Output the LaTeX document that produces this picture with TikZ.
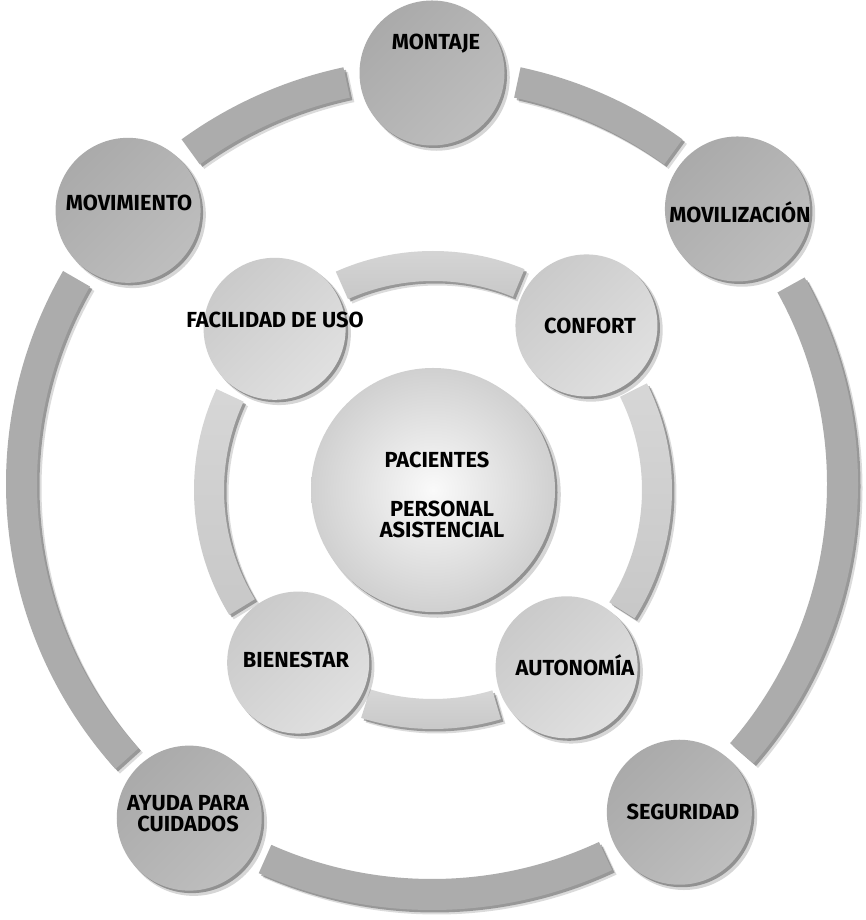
\documentclass[tikz,border=0pt]{standalone}
\usepackage{fontspec}
\setmainfont{Fira Sans}
\usetikzlibrary{calc,shadows}
\definecolor{outA}{RGB}{170,170,170}
\definecolor{outB}{RGB}{190,190,190}
\definecolor{inA}{RGB}{202,202,202}
\definecolor{inB}{RGB}{224,224,224}
\definecolor{ctrIn}{RGB}{250,250,250}
\definecolor{ctrOut}{RGB}{208,208,208}
\definecolor{arcOut}{RGB}{172,172,172}
\definecolor{arcIn}{RGB}{210,210,210}

% #1 style, #2 centre, #3 start angle, #4 end angle, #5 inner radius, #6 outer radius
\newcommand\ringseg[6]{%
  \path[#1] ($(#2)+(#3:#6pt)$) arc[start angle=#3, end angle=#4, radius=#6pt]
    -- ($(#2)+(#4:#5pt)$) arc[start angle=#4, end angle=#3, radius=#5pt] -- cycle;}
\newcommand\arcband[6]{%
  \ringseg{fill=black,opacity=0.14,transform canvas={shift={(4.5pt,-4.5pt)}}}{#2}{#3}{#4}{#5}{#6}
  \ringseg{fill=black,opacity=0.30,transform canvas={shift={(2.5pt,-2.5pt)}}}{#2}{#3}{#4}{#5}{#6}
  \ringseg{#1}{#2}{#3}{#4}{#5}{#6}}

\begin{document}
\begin{tikzpicture}[x=1pt,y=1pt,
  softshade/.style={
    drop shadow={shadow xshift=4.5pt,shadow yshift=-4.5pt,opacity=0.16,fill=black,shadow scale=1.01},
    drop shadow={shadow xshift=2.5pt,shadow yshift=-2.5pt,opacity=0.32,fill=black}},
  bubble/.style={circle, inner sep=0pt, draw=none, softshade},
  bigbub/.style={bubble, minimum size=145pt, top color=outA, bottom color=outB, shading angle=45},
  midbub/.style={bubble, minimum size=142pt, top color=inA, bottom color=inB, shading angle=45},
  ctrbub/.style={bubble, minimum size=244pt, inner color=ctrIn, outer color=ctrOut},
  lbl/.style={font=\bfseries\fontsize{21.8}{21}\selectfont, align=center, inner sep=0pt, text=black},
  outband/.style={fill=arcOut},
  inband/.style={top color=arcIn!90!white, bottom color=arcIn!95!black},
]
\useasboundingbox (0,0) rectangle (865,920);
\fill[white] (0,0) rectangle (865,920);

\coordinate (O) at (432,436);
\coordinate (I) at (433,430);

% outer ring bands
\arcband{outband}{O}{54}{78}{395}{426}
\arcband{outband}{O}{-41}{29}{395}{426}
\arcband{outband}{O}{-114}{-65}{395}{426}
\arcband{outband}{O}{150}{222}{395}{426}
\arcband{outband}{O}{102}{126}{395}{426}

% inner ring bands
\arcband{inband}{I}{67.5}{114}{209}{239}
\arcband{inband}{I}{-32.5}{26.5}{209}{239}
\arcband{inband}{I}{-107.5}{-73.5}{209}{239}
\arcband{inband}{I}{155}{211.5}{209}{239}

% outer circles
\node[bigbub] (montaje) at ($(O)+(90:411pt)$) {};
\node[bigbub] (moviliz) at ($(O)+(42:411pt)$) {};
\node[bigbub] (segur)   at ($(O)+(-53:411pt)$) {};
\node[bigbub] (ayuda)   at ($(O)+(-126:413pt)$) {};
\node[bigbub] (movim)   at ($(O)+(138:409pt)$) {};

% inner circles
\node[midbub] (facil)  at ($(I)+(134.5:226pt)$) {};
\node[midbub] (confort) at ($(I)+(47:225pt)$) {};
\node[midbub] (autonom) at ($(I)+(-53:222pt)$) {};
\node[midbub] (bienes) at ($(I)+(-128:219pt)$) {};

% centre
\node[ctrbub] (centro) at (I) {};

% labels
\node[lbl] (montajeT) at (436,876) {MONTAJE};
\node[lbl] (movilizT) at (740,708) {MOVILIZACIÓN};
\node[lbl] (movimT)   at (129,717) {MOVIMIENTO};
\node[lbl] (ayudaT)   at (188,106) {AYUDA PARA\\CUIDADOS};
\node[lbl] (segurT)   at (683,108) {SEGURIDAD};
\node[lbl] (facilT)   at (275,600) {FACILIDAD DE USO};
\node[lbl] (confortT) at (590,594) {CONFORT};
\node[lbl] (bienesT)  at (296,260) {BIENESTAR};
\node[lbl] (autonomT) at (575,255) {AUTONOMÍA};
\node[lbl] (pacT)     at (437,460) {PACIENTES};
\node[lbl] (persT)    at (442,401) {PERSONAL\\ASISTENCIAL};
\end{tikzpicture}
\end{document}
